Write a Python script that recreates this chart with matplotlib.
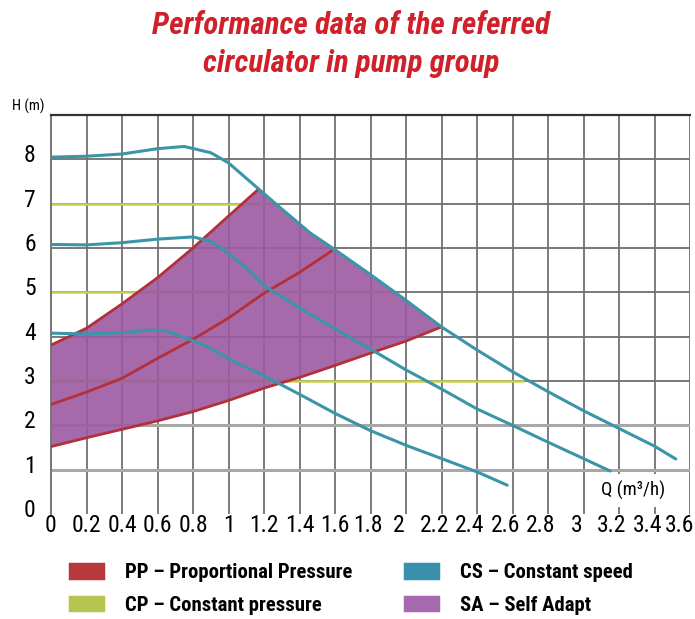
import matplotlib
matplotlib.use("Agg")
import matplotlib.pyplot as plt
import matplotlib.transforms as mtransforms
from matplotlib import font_manager
from matplotlib.patches import Patch

# curves, Q in m3/h and H in m
# CS - constant speed, three speeds
cs1_q = [0, 0.2, 0.4, 0.6, 0.75, 0.9, 1.0, 1.17, 1.3, 1.46, 1.6, 1.8, 2.0, 2.2, 2.4, 2.6, 2.8, 3.0, 3.2, 3.4, 3.52]
cs1_h = [8.05, 8.07, 8.12, 8.24, 8.29, 8.15, 7.92, 7.33, 6.88, 6.34, 5.96, 5.4, 4.82, 4.22, 3.7, 3.21, 2.76, 2.33, 1.93, 1.53, 1.24]

cs2_q = [0, 0.2, 0.4, 0.6, 0.8, 0.9, 1.0, 1.1, 1.2, 1.4, 1.6, 1.8, 2.0, 2.2, 2.4, 2.6, 2.8, 3.0, 3.15]
cs2_h = [6.08, 6.07, 6.12, 6.2, 6.25, 6.15, 5.88, 5.55, 5.15, 4.65, 4.18, 3.72, 3.25, 2.82, 2.37, 2.0, 1.62, 1.25, 0.97]

cs3_q = [0, 0.2, 0.4, 0.56, 0.64, 0.76, 0.88, 1.0, 1.2, 1.4, 1.6, 1.8, 2.0, 2.2, 2.4, 2.57]
cs3_h = [4.08, 4.06, 4.09, 4.15, 4.14, 3.97, 3.78, 3.5, 3.12, 2.7, 2.27, 1.88, 1.55, 1.25, 0.95, 0.65]

# PP - proportional pressure
pp1_q = [0, 0.2, 0.4, 0.6, 0.8, 1.0, 1.17]
pp1_h = [3.81, 4.19, 4.74, 5.33, 6.0, 6.72, 7.33]

pp2_q = [0, 0.2, 0.4, 0.6, 0.8, 1.0, 1.2, 1.4, 1.58]
pp2_h = [2.47, 2.75, 3.06, 3.51, 3.94, 4.42, 4.98, 5.45, 5.93]

pp3_q = [0, 0.2, 0.4, 0.6, 0.8, 1.0, 1.2, 1.4, 1.6, 1.8, 2.0, 2.2]
pp3_h = [1.52, 1.72, 1.91, 2.1, 2.31, 2.56, 2.84, 3.08, 3.35, 3.63, 3.9, 4.22]

# CP - constant pressure levels and where they stop
cp_h = [7, 5, 3]
cp_qmax = [1.27, 1.93, 2.66]

x_ticks = [0, 0.2, 0.4, 0.6, 0.8, 1, 1.2, 1.4, 1.6, 1.8, 2, 2.2, 2.4, 2.6, 2.8, 3, 3.2, 3.4, 3.6]
x_labels = ['0', '0.2', '0.4', '0.6', '0.8', '1', '1.2', '1.4', '1.6', '1.8', '2',
            '2.2', '2.4', '2.6', '2.8', '3', '3.2', '3.4', '3.6']
y_ticks = [0, 1, 2, 3, 4, 5, 6, 7, 8]

title_lines = ['Performance data of the referred', 'circulator in pump group']
legend_labels = ['PP – Proportional Pressure', 'CP – Constant pressure',
                 'CS – Constant speed', 'SA – Self Adapt']

# colours
c_pp = '#b3303a'
c_cp = '#c6d04e'
c_cs = '#3b95a8'
c_sa = '#9d5aa1'
legend_colors = ['#b8393b', '#b6c54f', '#3a90ab', '#a66aae']

# the original uses a condensed sans; take one if the system has it
names = {f.name for f in font_manager.fontManager.ttflist}
family = 'Liberation Sans'
for cand in ['Roboto Condensed', 'Liberation Sans Narrow', 'Open Sans Condensed',
             'Noto Sans Condensed', 'DejaVu Sans Condensed', 'Roboto', 'Liberation Sans']:
    if cand in names:
        family = cand
        break
plt.rcParams['font.family'] = [family, 'DejaVu Sans']

fig = plt.figure(figsize=(6.95, 6.19), dpi=100)
renderer = fig.canvas.get_renderer()
px = fig.dpi / 72.0


def fit(s, target_w, max_pt, **kw):
    # font size (pt) so that s is about target_w pixels wide
    t = fig.text(0, 0, s, fontsize=max_pt, **kw)
    w = t.get_window_extent(renderer).width
    t.remove()
    return min(max_pt, max_pt * target_w / w)


tick_fs = fit('3.4', 31, 17)
title_fs = fit(title_lines[0], 398, 22.5, fontweight='bold', fontstyle='italic')
leg_fs = fit(legend_labels[0], 227, 16, fontweight='bold')
q_fs = fit('Q (m³/h)', 68, 13.5)
h_fs = fit('H (m)', 33, 10.5)

ax = fig.add_axes([51 / 695, 1 - 514 / 619, 639 / 695, 399 / 619])
ax.set_xlim(0, 3.6)
ax.set_ylim(0, 9)

# grid
for q in x_ticks:
    ax.axvline(q, color='#7c7c7c', lw=1.4, zorder=1)
for h in y_ticks[1:]:
    if h <= 2:
        ax.axhline(h, color='#a8a8a8', lw=2.2, zorder=1)
    else:
        ax.axhline(h, color='#6e6e6e', lw=1.3, zorder=1)

# CP lines
for h, qm in zip(cp_h, cp_qmax):
    ax.plot([0, qm], [h, h], color=c_cp, lw=1.8, zorder=2)

# SA area: top PP line, down the top CS curve, back along bottom PP line
top_cs = [(q, h) for q, h in zip(cs1_q, cs1_h) if pp1_q[-1] < q <= pp3_q[-1]]
poly_q = list(pp1_q) + [p[0] for p in top_cs] + pp3_q[::-1]
poly_h = list(pp1_h) + [p[1] for p in top_cs] + pp3_h[::-1]
ax.fill(poly_q, poly_h, color=c_sa, alpha=0.9, lw=0, zorder=3)

# PP lines
for q, h in [(pp1_q, pp1_h), (pp2_q, pp2_h), (pp3_q, pp3_h)]:
    ax.plot(q, h, color=c_pp, lw=2.0, zorder=4, solid_capstyle='round')

# CS curves
for q, h in [(cs1_q, cs1_h), (cs2_q, cs2_h), (cs3_q, cs3_h)]:
    ax.plot(q, h, color=c_cs, lw=2.2, zorder=5, solid_capstyle='round')

# spines
for s in ['bottom', 'right']:
    ax.spines[s].set_visible(False)
ax.spines['top'].set_color('#333333')
ax.spines['top'].set_linewidth(1.6)
ax.spines['left'].set_color('#777777')
ax.spines['left'].set_linewidth(1.4)

ax.set_xticks(x_ticks)
ax.set_xticklabels(x_labels)
ax.set_yticks(y_ticks)
ax.set_yticklabels([str(v) for v in y_ticks])
ax.tick_params(axis='x', length=0, pad=0, labelsize=tick_fs)
ax.tick_params(axis='y', length=0, pad=11, labelsize=tick_fs)

# labels on the right half sit a little left of their grid line in the original
for q, lab in zip(x_ticks, ax.get_xticklabels()):
    if q < 1.7:
        dx = 0
    elif q < 2.0:
        dx = -3
    elif q < 3.5:
        dx = -7
    else:
        dx = -10
    lab.set_transform(lab.get_transform() +
                      mtransforms.ScaledTranslation(dx / 100, 0, fig.dpi_scale_trans))
up = mtransforms.ScaledTranslation(0, 6 / 100, fig.dpi_scale_trans)
for lab in ax.get_yticklabels():
    lab.set_transform(lab.get_transform() + up)

ax.text(0.911, 0.06, 'Q (m³/h)', transform=ax.transAxes, ha='center', va='center',
        fontsize=q_fs, zorder=6,
        bbox=dict(facecolor='white', edgecolor='none', pad=5))
fig.text(28 / 695, 1 - 106 / 619, 'H (m)', ha='center', va='center', fontsize=h_fs)

for line, yc in zip(title_lines, [25, 63]):
    fig.text(0.505, 1 - yc / 619, line, ha='center', va='center',
             fontsize=title_fs, color='#d0202a', fontweight='bold', fontstyle='italic')

fs_px = leg_fs * px
handles = [Patch(facecolor=c, edgecolor=c, linewidth=2.5, joinstyle='round')
           for c in legend_colors]
fig.legend(handles, legend_labels, ncol=2, frameon=False,
           loc='center left', bbox_to_anchor=(70 / 695, 1 - 589 / 619),
           prop={'weight': 'bold', 'size': leg_fs},
           handlelength=33 / fs_px, handleheight=13 / fs_px, handletextpad=22 / fs_px,
           columnspacing=53 / fs_px, labelspacing=(34 - fs_px) / fs_px,
           borderpad=0, borderaxespad=0)

fig.savefig('out.png', dpi=100)
